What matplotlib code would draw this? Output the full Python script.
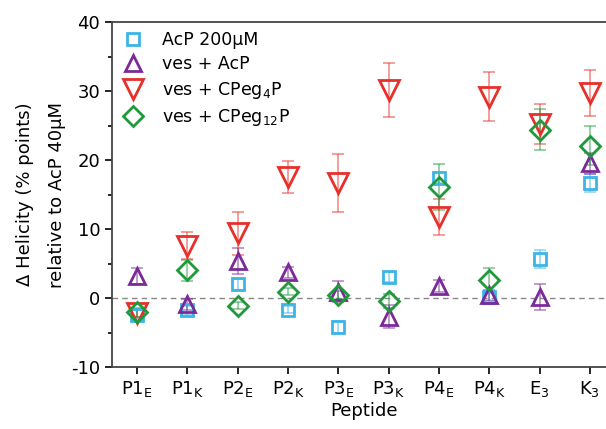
import matplotlib
matplotlib.use("Agg")
import matplotlib.pyplot as plt
import numpy as np

peptides = ["P1$_\\mathregular{E}$", "P1$_\\mathregular{K}$", "P2$_\\mathregular{E}$", "P2$_\\mathregular{K}$",
            "P3$_\\mathregular{E}$", "P3$_\\mathregular{K}$", "P4$_\\mathregular{E}$", "P4$_\\mathregular{K}$",
            "E$_\\mathregular{3}$", "K$_\\mathregular{3}$"]

acp200 = [-2.4, -1.8, 2.0, -1.7, -4.2, 3.0, 17.4, 0.2, 5.6, 16.7]
acp200_err = [0.6, 0.6, 0.8, 0.5, 0.8, 0.7, 0.8, 0.5, 1.3, 1.3]

ves_acp = [3.2, -0.9, 5.4, 3.7, 0.9, -2.7, 1.7, 0.4, 0.2, 19.5]
ves_acp_err = [1.2, 0.8, 1.9, 0.8, 1.5, 1.7, 0.9, 0.8, 1.9, 1.5]

ves_cpeg4 = [-2.2, 7.6, 9.4, 17.5, 16.6, 30.1, 11.7, 29.2, 25.2, 29.7]
ves_cpeg4_err = [0.6, 2.0, 3.1, 2.3, 4.2, 3.9, 2.6, 3.5, 2.9, 3.3]

ves_cpeg12 = [-2.1, 4.0, -1.1, 0.9, 0.4, -0.4, 16.1, 2.6, 24.4, 22.1]
ves_cpeg12_err = [0.6, 1.5, 0.5, 0.5, 0.6, 1.0, 3.3, 1.8, 3.0, 2.8]

plt.rcParams['font.family'] = ['DejaVu Sans']
plt.rcParams['mathtext.default'] = 'regular'
plt.rcParams['axes.unicode_minus'] = False

fig = plt.figure(figsize=(6.06, 4.29), dpi=100)
W, H = 606, 429
left, right, top, bottom = 112, 615, 22, 367
ax = fig.add_axes([left / W, 1 - bottom / H, (right - left) / W, (bottom - top) / H])

x = np.arange(len(peptides))

series = [
    (acp200, acp200_err, "s", "#3cb4e6", 9, "AcP 200\u03bcM"),
    (ves_acp, ves_acp_err, "^", "#7b2a98", 12, "ves + AcP"),
    (ves_cpeg4, ves_cpeg4_err, "v", "#e8302a", 14, "ves + CPeg$_4$P"),
    (ves_cpeg12, ves_cpeg12_err, "D", "#1e9a3a", 10, "ves + CPeg$_{12}$P"),
]

ax.axhline(0, color="#888888", ls=(0, (4, 3)), lw=1, zorder=1)

handles = []
for vals, errs, m, c, ms, lab in series:
    ax.errorbar(x, vals, yerr=errs, fmt="none", ecolor=c, alpha=0.5, elinewidth=1.3,
                capsize=4, capthick=1.3, zorder=2)
    h, = ax.plot(x, vals, ls="none", marker=m, ms=ms, mfc="none", mec=c, mew=2, zorder=3, label=lab)
    handles.append(h)

ax.set_xlim(-0.5, 9.5)
ax.set_ylim(-10, 40)
ax.set_xticks(x)
ax.set_xticklabels(peptides, fontsize=13)
ax.set_yticks([-10, 0, 10, 20, 30, 40])
ax.set_yticks(np.arange(-5, 40, 10), minor=True)
ax.tick_params(axis="both", direction="out", labelsize=13, width=1.2, length=5)
ax.tick_params(axis="y", which="minor", direction="out", width=1.2, length=3)
for s in ["left", "bottom", "top"]:
    ax.spines[s].set_linewidth(1.3)
    ax.spines[s].set_color("#444444")
ax.spines["right"].set_visible(False)

ax.set_xlabel("Peptide", fontsize=13, labelpad=2)
ax.set_ylabel("\u0394 Helicity (% points)\nrelative to AcP 40\u03bcM", fontsize=13,
              linespacing=1.95, labelpad=4)

ax.legend(handles=handles, loc="upper left", frameon=False, fontsize=12.5,
          handletextpad=1.2, borderaxespad=0.3, labelspacing=0.38, handlelength=1.0,
          bbox_to_anchor=(0.0, 1.01))

fig.savefig("out.png", dpi=100)
